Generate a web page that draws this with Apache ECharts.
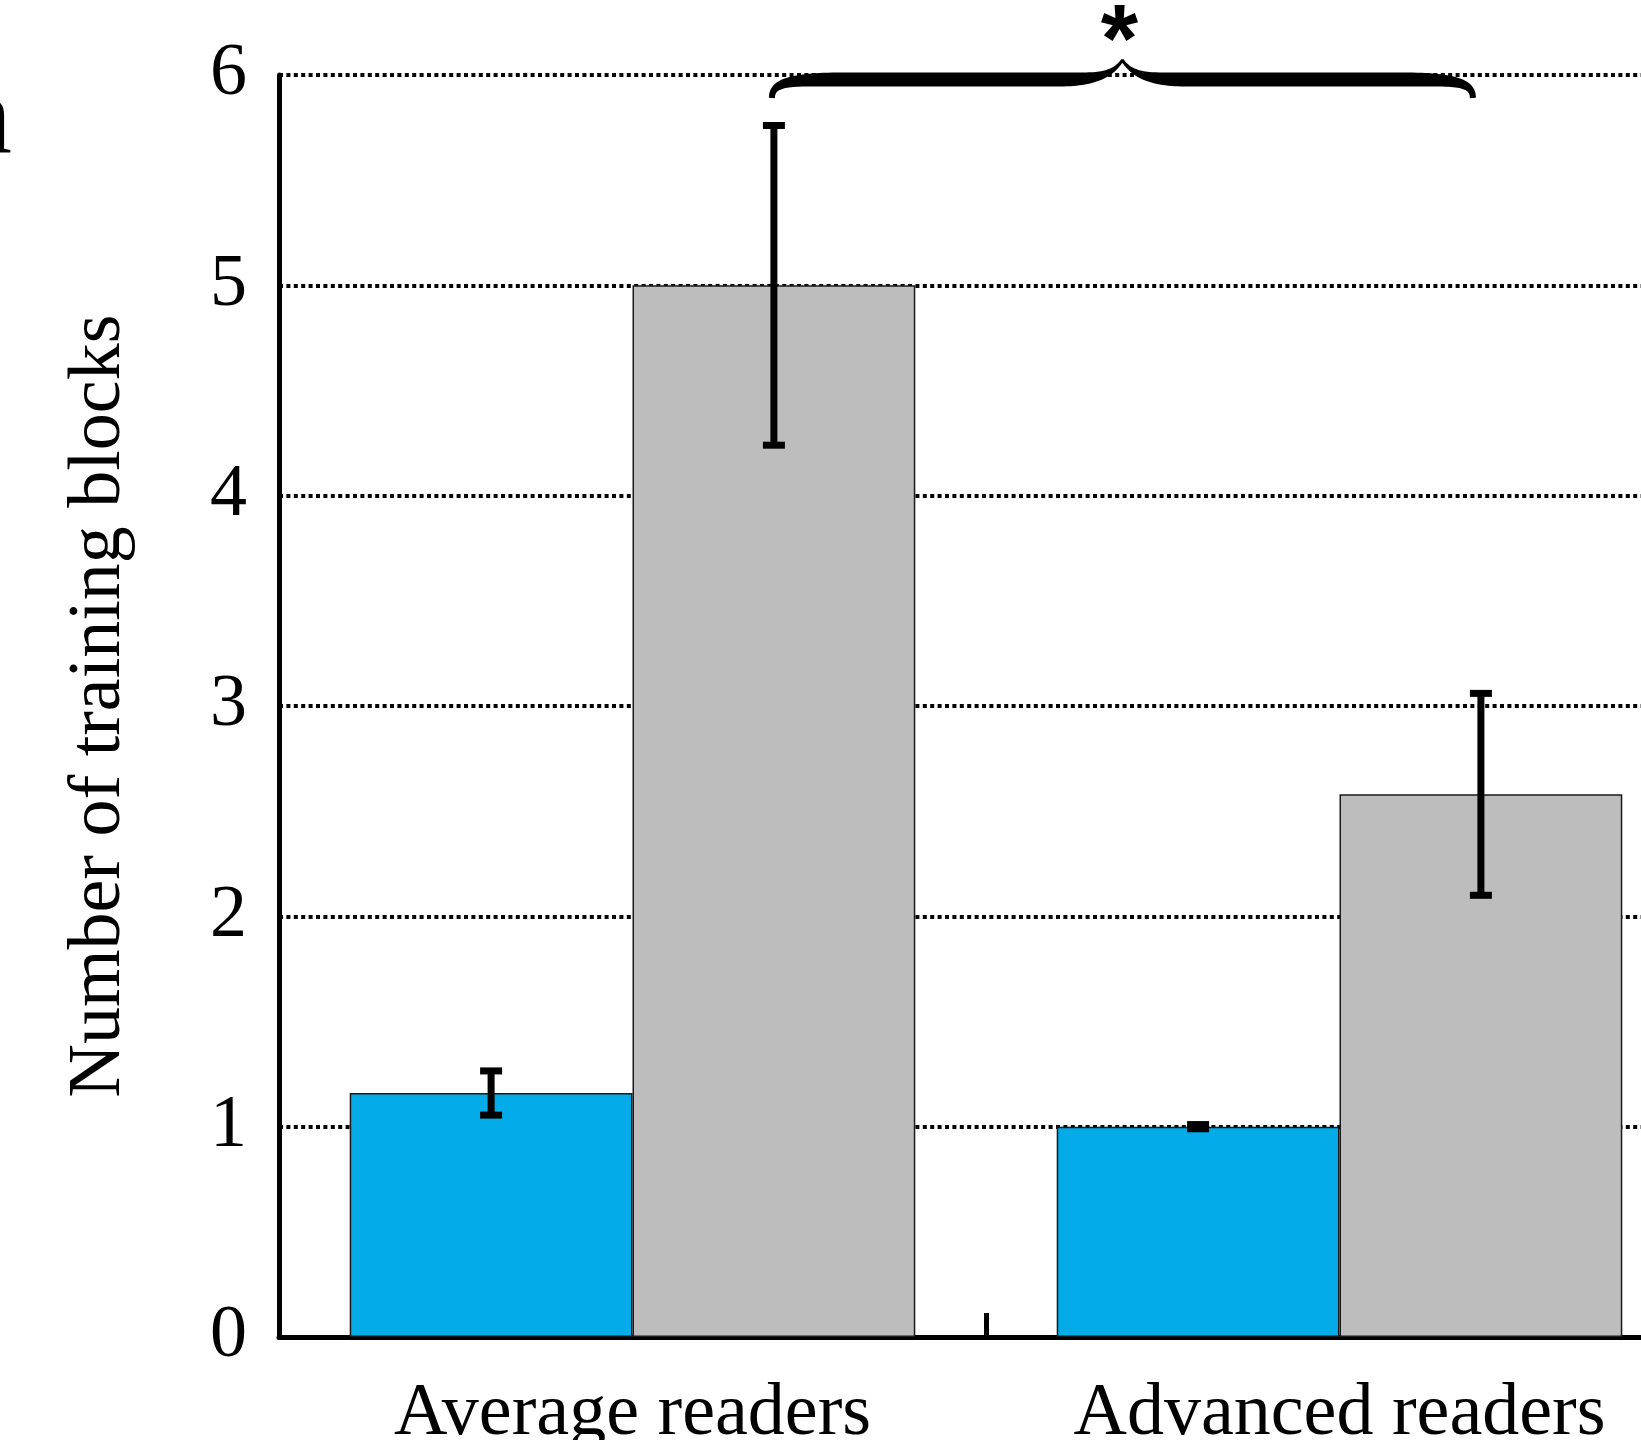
<!DOCTYPE html>
<html lang="en">
<head>
    <meta charset="UTF-8">
</head>
<style>
    html, body {
        width: 100%;
        height: 100%;
        margin: 0;
        background: #fff;
    }
</style>
<body>

<div id="main" style="width:1641px;height:1440px;"></div>

<script src="https://cdn.jsdelivr.net/npm/echarts@6/dist/echarts.min.js" type="text/javascript"></script>

<script type="text/javascript">

    // data
    const categories = ['Average readers', 'Advanced readers'];
    const blueMeans = [1.16, 1.0];
    const blueErr = [0.105, 0.01];
    const grayMeans = [5.0, 2.58];
    const grayErr = [0.76, 0.48];
    const yAxisTitle = 'Number of training blocks';

    const FONT = 'Liberation Serif';

    // error bar drawn over one of the two bars in a category (side = -1 left, +1 right)
    function errorBar(side) {
        return function (params, api) {
            let cat = api.value(0);
            let mean = api.value(1);
            let err = api.value(2);
            let band = api.size([1, 0])[0];
            let barW = band * 0.8 / 2;
            let c = api.coord([cat, mean]);
            let x = c[0] + side * barW / 2;
            let top = api.coord([cat, mean + err])[1];
            let bot = api.coord([cat, mean - err])[1];
            let half = 11, capH = 7;
            let st = {fill: '#000'};
            return {
                type: 'group',
                children: [
                    {type: 'rect', shape: {x: x - 3.5, y: top, width: 7, height: bot - top}, style: st},
                    {type: 'rect', shape: {x: x - half, y: top - capH / 2, width: half * 2, height: capH}, style: st},
                    {type: 'rect', shape: {x: x - half, y: bot - capH / 2, width: half * 2, height: capH}, style: st}
                ]
            };
        };
    }

    let myEcharts = echarts.init(document.getElementById('main'));

    let option = {
        animation: false,
        backgroundColor: '#fff',
        grid: {
            left: 279,
            top: 75,
            width: 1414,
            height: 1262,
            outerBoundsMode: 'none',
            containLabel: false
        },
        xAxis: {
            type: 'category',
            data: categories,
            axisLine: {lineStyle: {color: '#000', width: 5}},
            axisTick: {show: true, inside: true, interval: 0, length: 24, lineStyle: {color: '#000', width: 5}},
            axisLabel: {
                interval: 0,
                fontFamily: FONT,
                fontSize: 74,
                color: '#000',
                margin: 41
            }
        },
        yAxis: {
            type: 'value',
            min: 0,
            max: 6,
            interval: 1,
            name: yAxisTitle,
            nameLocation: 'middle',
            nameGap: 142,
            nameTextStyle: {
                fontFamily: FONT,
                fontSize: 74,
                color: '#000'
            },
            axisLine: {show: true, lineStyle: {color: '#000', width: 5}},
            axisTick: {show: false},
            axisLabel: {
                fontFamily: FONT,
                fontSize: 74,
                color: '#000',
                margin: 32
            },
            splitLine: {
                show: true,
                lineStyle: {color: '#000', width: 4, type: [4, 3.4]}
            }
        },
        series: [
            {
                name: 'Condition 1',
                type: 'bar',
                data: blueMeans,
                barGap: '0%',
                barCategoryGap: '20%',
                itemStyle: {color: '#03ACE8', borderColor: '#1a1a1a', borderWidth: 1.5}
            },
            {
                name: 'Condition 2',
                type: 'bar',
                data: grayMeans,
                itemStyle: {color: '#BDBDBD', borderColor: '#1a1a1a', borderWidth: 1.5}
            },
            {
                type: 'custom',
                z: 5,
                renderItem: errorBar(-1),
                data: blueMeans.map(function (m, i) { return [i, m, blueErr[i]]; })
            },
            {
                type: 'custom',
                z: 5,
                renderItem: errorBar(1),
                data: grayMeans.map(function (m, i) { return [i, m, grayErr[i]]; })
            }
        ]
    };

    myEcharts.setOption(option);

    // significance brace between the two gray bars, drawn as a tapered filled shape
    let c0 = myEcharts.convertToPixel({xAxisIndex: 0}, 0);
    let c1 = myEcharts.convertToPixel({xAxisIndex: 0}, 1);
    let barW = (c1 - c0) * 0.8 / 2;
    let xa = c0 + barW / 2 - 2;
    let xb = c1 + barW / 2 - 8;
    let xm = (xa + xb) / 2;
    let y6 = myEcharts.convertToPixel({yAxisIndex: 0}, 6);
    let yf = y6 + 4.5, ye = y6 + 23, yp = y6 - 15;

    function bez(p0, p1, p2, p3, t) {
        let u = 1 - t;
        return [
            u * u * u * p0[0] + 3 * u * u * t * p1[0] + 3 * u * t * t * p2[0] + t * t * t * p3[0],
            u * u * u * p0[1] + 3 * u * u * t * p1[1] + 3 * u * t * t * p2[1] + t * t * t * p3[1]
        ];
    }
    // centre line pieces: [p0, p1, p2, p3, halfWidthStart, halfWidthEnd]
    let pieces = [
        [[xa, ye], [xa, yf + 2], [xa + 20, yf], [xa + 70, yf], 3, 7],
        [[xa + 70, yf], [xa + 150, yf], [xm - 140, yf], [xm - 62, yf], 7, 7],
        [[xm - 62, yf], [xm - 28, yf], [xm - 10, yf - 4], [xm, yp], 7, 1.5],
        [[xm, yp], [xm + 10, yf - 4], [xm + 28, yf], [xm + 62, yf], 1.5, 7],
        [[xm + 62, yf], [xm + 140, yf], [xb - 150, yf], [xb - 70, yf], 7, 7],
        [[xb - 70, yf], [xb - 20, yf], [xb, yf + 2], [xb, ye], 7, 3]
    ];
    let centre = [], widths = [];
    pieces.forEach(function (pc) {
        for (let k = 0; k <= 30; k++) {
            let t = k / 30;
            centre.push(bez(pc[0], pc[1], pc[2], pc[3], t));
            let e = t * t * (3 - 2 * t);
            widths.push(pc[4] + (pc[5] - pc[4]) * e);
        }
    });
    let sideA = [], sideB = [];
    for (let i = 0; i < centre.length; i++) {
        let p = centre[Math.max(0, i - 1)], q = centre[Math.min(centre.length - 1, i + 1)];
        let dx = q[0] - p[0], dy = q[1] - p[1];
        let len = Math.sqrt(dx * dx + dy * dy) || 1;
        let nx = -dy / len, ny = dx / len;
        sideA.push([centre[i][0] + nx * widths[i], centre[i][1] + ny * widths[i]]);
        sideB.push([centre[i][0] - nx * widths[i], centre[i][1] - ny * widths[i]]);
    }
    let bracePts = sideA.concat(sideB.reverse());

    myEcharts.setOption({
        graphic: [
            {
                type: 'polygon',
                shape: {points: bracePts},
                style: {fill: '#000'}
            },
            {
                type: 'text',
                x: xm - 3,
                y: 45,
                style: {
                    text: '*',
                    font: 'bold 96px "Liberation Sans"',
                    fill: '#000',
                    align: 'center',
                    verticalAlign: 'middle'
                }
            },
            {
                // edge of the panel letter, cut by the picture
                type: 'text',
                x: -44,
                y: 124,
                style: {
                    text: 'n',
                    font: '112px ' + FONT,
                    fill: '#000',
                    align: 'left',
                    verticalAlign: 'middle'
                }
            }
        ]
    });

</script>
</body>
</html>
